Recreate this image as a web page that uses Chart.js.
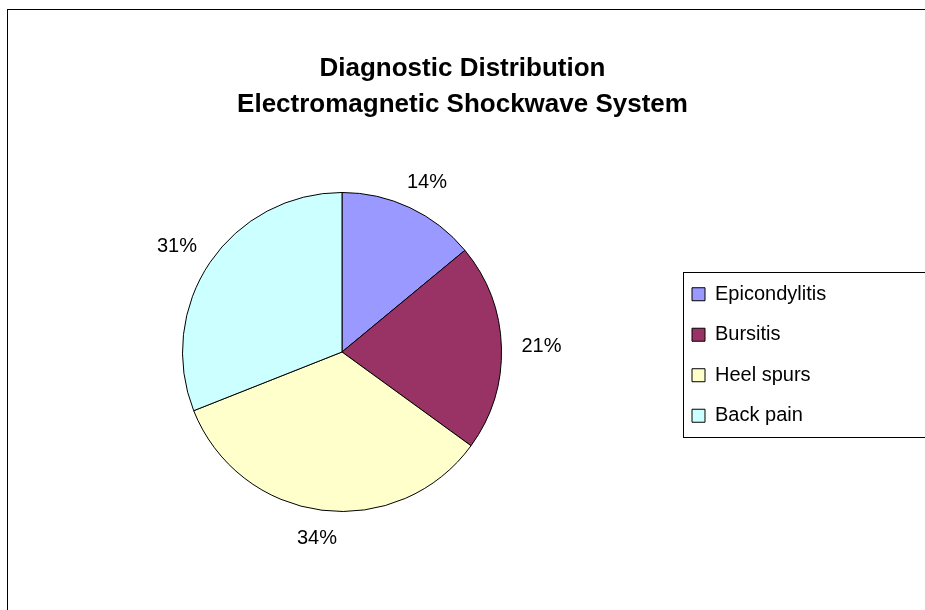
<!DOCTYPE html>
<html>
<head>
<meta charset="utf-8">
<script src="https://cdn.jsdelivr.net/npm/chart.js@4/dist/chart.umd.min.js"></script>
<style>
  html, body { margin: 0; padding: 0; background: #fff; }
  #wrap { width: 925px; height: 610px; position: relative; }
</style>
</head>
<body>
<div id="wrap"><canvas id="pie"></canvas></div>
<script>
// --- data ---
const categories = ['Epicondylitis', 'Bursitis', 'Heel spurs', 'Back pain'];
const shares = [14, 21, 34, 31];
const sliceColors = ['#9999FF', '#993366', '#FFFFCC', '#CCFFFF'];
const titleLines = ['Diagnostic Distribution', 'Electromagnetic Shockwave System'];

const FONT = '"Liberation Sans", Arial, sans-serif';

// outer frame of the chart object (runs off the right/bottom edge)
const framePlugin = {
  id: 'frame',
  afterLayout(chart) {
    // title is centred over the whole canvas, not the padded area
    const tb = chart.titleBlock;
    if (tb) { tb.left = 0; tb.right = chart.width; tb.width = chart.width; }
    // nudge the legend down a touch
    const lg = chart.legend;
    if (lg) {
      lg.top += 3; lg.bottom += 3;
      (lg.legendHitBoxes || []).forEach(b => { b.top += 3; });
    }
  },
  beforeDraw(chart) {
    const ctx = chart.ctx;
    ctx.save();
    ctx.fillStyle = '#fff';
    ctx.fillRect(0, 0, chart.width, chart.height);
    ctx.strokeStyle = '#000';
    ctx.lineWidth = 1;
    ctx.strokeRect(7.5, 9.5, chart.width + 50, chart.height + 50);
    ctx.restore();
  },
  afterDraw(chart) {
    // legend border, built from the legend hit boxes
    const boxes = chart.legend.legendHitBoxes;
    if (!boxes || !boxes.length) return;
    const first = boxes[0], last = boxes[boxes.length - 1];
    const ctx = chart.ctx;
    ctx.save();
    ctx.strokeStyle = '#000';
    ctx.lineWidth = 1;
    const x = Math.round(first.left - 9) + 0.5;
    const y = Math.round(first.top - 12) + 0.5;
    const h = Math.round(last.top + last.height + 11 - (first.top - 12));
    ctx.strokeRect(x, y, chart.width, h);
    ctx.restore();
  }
};

// percent labels outside the slices
const pctLabels = {
  id: 'pctLabels',
  afterDatasetsDraw(chart) {
    const ctx = chart.ctx;
    const meta = chart.getDatasetMeta(0);
    const total = shares.reduce((a, b) => a + b, 0);
    ctx.save();
    ctx.font = '20px ' + FONT;
    ctx.fillStyle = '#000';
    ctx.textAlign = 'center';
    ctx.textBaseline = 'middle';
    meta.data.forEach((arc, i) => {
      const txt = Math.round(shares[i] / total * 100) + '%';
      const mid = (arc.startAngle + arc.endAngle) / 2;
      const ux = Math.cos(mid), uy = Math.sin(mid);
      const w = ctx.measureText(txt).width, h = 16;
      const d = arc.outerRadius + 20;
      const x = arc.x + ux * d + ux * w / 2;
      const y = arc.y + uy * d + uy * h / 2;
      ctx.fillText(txt, x, y);
    });
    ctx.restore();
  }
};

new Chart(document.getElementById('pie'), {
  type: 'pie',
  data: {
    labels: categories,
    datasets: [{
      data: shares,
      backgroundColor: sliceColors,
      borderColor: '#000',
      borderWidth: 1,
      hoverOffset: 0
    }]
  },
  options: {
    responsive: true,
    maintainAspectRatio: false,
    animation: false,
    events: [],
    layout: { padding: { left: 12.5, right: 93.5, top: 0, bottom: 98 } },
    plugins: {
      title: {
        display: true,
        text: titleLines,
        color: '#000',
        font: { family: FONT, size: 26, weight: 'bold', lineHeight: 1.365 },
        padding: { top: 51.5, bottom: 69.5 }
      },
      legend: {
        position: 'right',
        fullSize: false,
        maxWidth: 160,
        labels: {
          color: '#000',
          font: { family: FONT, size: 20 },
          boxWidth: 13,
          boxHeight: 13,
          padding: 20.5
        }
      },
      tooltip: { enabled: false }
    }
  },
  plugins: [framePlugin, pctLabels]
});
</script>
</body>
</html>
